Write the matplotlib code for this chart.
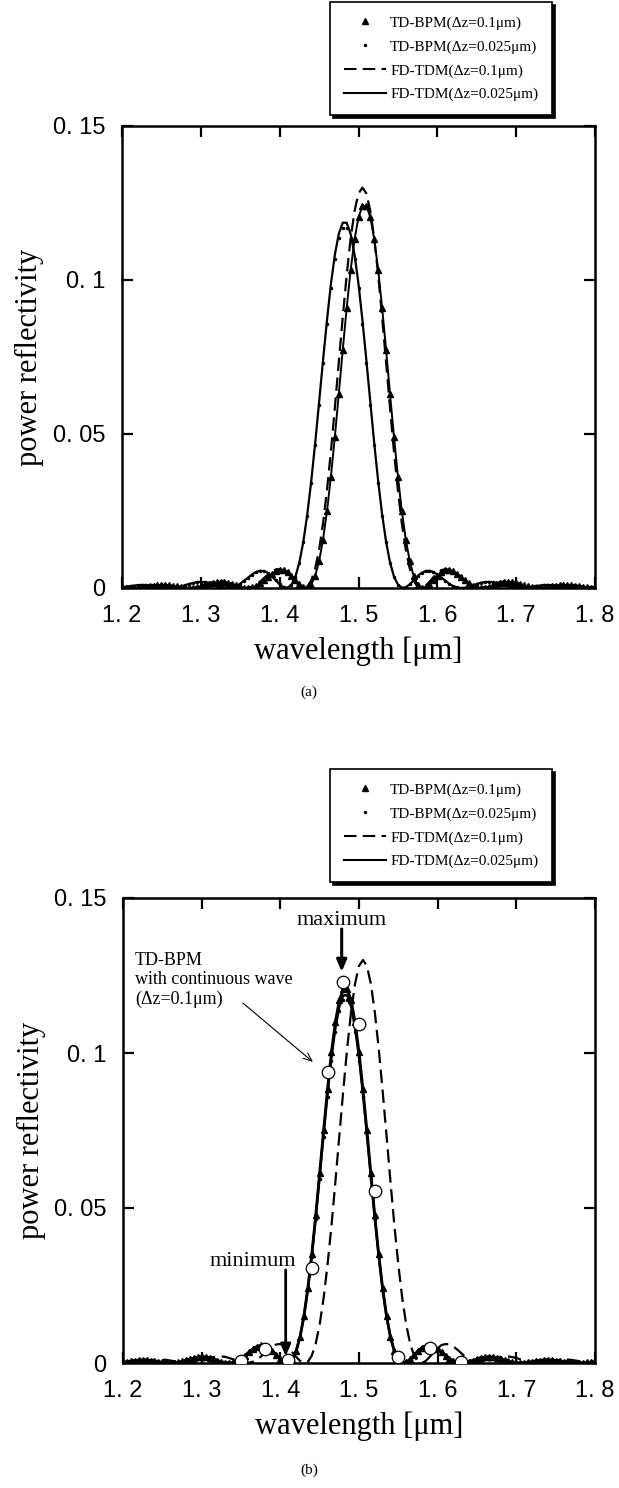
import numpy as np
import matplotlib
matplotlib.use("Agg")
import matplotlib.pyplot as plt
from matplotlib.lines import Line2D

# ---------------- data ----------------
# common wavelength sampling grid (um), 1.200 ... 1.800 step 0.005
wavelength = np.round(np.linspace(1.2, 1.8, 121), 4)

# FD-TDM (dz = 0.025 um)  - solid line, panels (a) and (b)
fd_tdm_0025 = [
    0.0002, 0.0004, 0.0006, 0.0008, 0.0009, 0.0010, 0.0010, 0.0008, 0.0007, 0.0004, 0.0002,
    0.0001, 0.0000, 0.0000, 0.0002, 0.0005, 0.0009, 0.0013, 0.0016, 0.0019, 0.0020,
    0.0019, 0.0017, 0.0013, 0.0008, 0.0004, 0.0001, 0.0000, 0.0002, 0.0006, 0.0014,
    0.0024, 0.0034, 0.0044, 0.0052, 0.0056, 0.0055, 0.0049, 0.0039, 0.0025, 0.0012,
    0.0002, 0.0001, 0.0011, 0.0037, 0.0083, 0.0150, 0.0238, 0.0346, 0.0469, 0.0603,
    0.0739, 0.0869, 0.0987, 0.1082, 0.1150, 0.1186, 0.1186, 0.1150, 0.1082, 0.0987,
    0.0869, 0.0739, 0.0603, 0.0469, 0.0346, 0.0238, 0.0150, 0.0083, 0.0037, 0.0011,
    0.0001, 0.0002, 0.0012, 0.0025, 0.0039, 0.0049, 0.0055, 0.0056, 0.0052, 0.0044,
    0.0034, 0.0024, 0.0014, 0.0006, 0.0002, 0.0000, 0.0001, 0.0004, 0.0008, 0.0013,
    0.0017, 0.0019, 0.0020, 0.0019, 0.0016, 0.0013, 0.0009, 0.0005, 0.0002, 0.0000,
    0.0000, 0.0001, 0.0002, 0.0004, 0.0007, 0.0008, 0.0010, 0.0010, 0.0009, 0.0008,
    0.0006, 0.0004, 0.0002, 0.0001, 0.0000, 0.0000, 0.0001, 0.0002, 0.0003, 0.0004]

# TD-BPM (dz = 0.025 um)  - small dots, panels (a) and (b)
td_bpm_0025 = [
    0.0002, 0.0004, 0.0006, 0.0008, 0.0009, 0.0010, 0.0010, 0.0008, 0.0007, 0.0004, 0.0002,
    0.0001, 0.0000, 0.0000, 0.0002, 0.0005, 0.0009, 0.0013, 0.0016, 0.0019, 0.0020,
    0.0019, 0.0017, 0.0013, 0.0008, 0.0004, 0.0001, 0.0000, 0.0002, 0.0006, 0.0014,
    0.0024, 0.0034, 0.0043, 0.0051, 0.0055, 0.0054, 0.0048, 0.0038, 0.0025, 0.0012,
    0.0002, 0.0001, 0.0011, 0.0036, 0.0082, 0.0148, 0.0235, 0.0341, 0.0463, 0.0595,
    0.0729, 0.0858, 0.0974, 0.1068, 0.1135, 0.1170, 0.1170, 0.1135, 0.1068, 0.0974,
    0.0858, 0.0729, 0.0595, 0.0463, 0.0341, 0.0235, 0.0148, 0.0082, 0.0036, 0.0011,
    0.0001, 0.0002, 0.0012, 0.0025, 0.0038, 0.0048, 0.0054, 0.0055, 0.0051, 0.0043,
    0.0034, 0.0024, 0.0014, 0.0006, 0.0002, 0.0000, 0.0001, 0.0004, 0.0008, 0.0013,
    0.0017, 0.0019, 0.0020, 0.0019, 0.0016, 0.0013, 0.0009, 0.0005, 0.0002, 0.0000,
    0.0000, 0.0001, 0.0002, 0.0004, 0.0007, 0.0008, 0.0010, 0.0010, 0.0009, 0.0008,
    0.0006, 0.0004, 0.0002, 0.0001, 0.0000, 0.0000, 0.0001, 0.0002, 0.0003, 0.0004]

# FD-TDM (dz = 0.1 um)  - dashed line, panels (a) and (b)
fd_tdm_01 = [
    0.0001, 0.0000, 0.0000, 0.0001, 0.0002, 0.0004, 0.0006, 0.0008, 0.0010, 0.0011, 0.0011,
    0.0010, 0.0008, 0.0006, 0.0004, 0.0002, 0.0000, 0.0000, 0.0001, 0.0004, 0.0007,
    0.0012, 0.0016, 0.0019, 0.0021, 0.0021, 0.0020, 0.0016, 0.0012, 0.0007, 0.0003,
    0.0000, 0.0001, 0.0004, 0.0011, 0.0020, 0.0032, 0.0043, 0.0053, 0.0060, 0.0061,
    0.0058, 0.0048, 0.0035, 0.0020, 0.0007, 0.0000, 0.0004, 0.0024, 0.0063, 0.0124,
    0.0209, 0.0317, 0.0443, 0.0585, 0.0733, 0.0879, 0.1016, 0.1134, 0.1224, 0.1281,
    0.1300, 0.1281, 0.1224, 0.1134, 0.1016, 0.0879, 0.0733, 0.0585, 0.0443, 0.0317,
    0.0209, 0.0124, 0.0063, 0.0024, 0.0004, 0.0000, 0.0007, 0.0020, 0.0035, 0.0048,
    0.0058, 0.0061, 0.0060, 0.0053, 0.0043, 0.0032, 0.0020, 0.0011, 0.0004, 0.0001,
    0.0000, 0.0003, 0.0007, 0.0012, 0.0016, 0.0020, 0.0021, 0.0021, 0.0019, 0.0016,
    0.0012, 0.0007, 0.0004, 0.0001, 0.0000, 0.0000, 0.0002, 0.0004, 0.0006, 0.0008,
    0.0010, 0.0011, 0.0011, 0.0010, 0.0008, 0.0006, 0.0004, 0.0002, 0.0001, 0.0000]

# TD-BPM (dz = 0.1 um) - triangles, panel (a)
td_bpm_01_a = [
    0.0002, 0.0001, 0.0000, 0.0000, 0.0001, 0.0003, 0.0004, 0.0007, 0.0008, 0.0010, 0.0010,
    0.0010, 0.0009, 0.0007, 0.0005, 0.0002, 0.0001, 0.0000, 0.0001, 0.0002, 0.0005,
    0.0009, 0.0013, 0.0017, 0.0019, 0.0021, 0.0020, 0.0017, 0.0013, 0.0009, 0.0004,
    0.0001, 0.0000, 0.0002, 0.0007, 0.0015, 0.0025, 0.0036, 0.0046, 0.0054, 0.0058,
    0.0058, 0.0051, 0.0040, 0.0027, 0.0013, 0.0003, 0.0001, 0.0011, 0.0039, 0.0087,
    0.0157, 0.0249, 0.0362, 0.0491, 0.0630, 0.0773, 0.0909, 0.1032, 0.1132, 0.1204, 0.1240,
    0.1240, 0.1204, 0.1132, 0.1032, 0.0909, 0.0773, 0.0630, 0.0491, 0.0362, 0.0249,
    0.0157, 0.0087, 0.0039, 0.0011, 0.0001, 0.0003, 0.0013, 0.0027, 0.0040, 0.0051,
    0.0058, 0.0058, 0.0054, 0.0046, 0.0036, 0.0025, 0.0015, 0.0007, 0.0002, 0.0000,
    0.0001, 0.0004, 0.0009, 0.0013, 0.0017, 0.0020, 0.0021, 0.0019, 0.0017, 0.0013,
    0.0009, 0.0005, 0.0002, 0.0001, 0.0000, 0.0001, 0.0002, 0.0005, 0.0007, 0.0009,
    0.0010, 0.0010, 0.0010, 0.0008, 0.0007, 0.0004, 0.0003, 0.0001, 0.0000]

# TD-BPM (dz = 0.1 um) - triangles, panel (b)
td_bpm_01_b = [
    0.0002, 0.0004, 0.0006, 0.0008, 0.0009, 0.0010, 0.0010, 0.0008, 0.0007, 0.0004, 0.0002,
    0.0001, 0.0000, 0.0000, 0.0002, 0.0005, 0.0009, 0.0013, 0.0016, 0.0019, 0.0020,
    0.0019, 0.0017, 0.0013, 0.0008, 0.0004, 0.0001, 0.0000, 0.0002, 0.0007, 0.0014,
    0.0024, 0.0035, 0.0045, 0.0053, 0.0057, 0.0056, 0.0050, 0.0039, 0.0026, 0.0012,
    0.0002, 0.0001, 0.0011, 0.0038, 0.0084, 0.0152, 0.0242, 0.0352, 0.0477, 0.0613,
    0.0751, 0.0884, 0.1003, 0.1101, 0.1170, 0.1205, 0.1205, 0.1170, 0.1101, 0.1003,
    0.0884, 0.0751, 0.0613, 0.0477, 0.0352, 0.0242, 0.0152, 0.0084, 0.0038, 0.0011,
    0.0001, 0.0002, 0.0012, 0.0026, 0.0039, 0.0050, 0.0056, 0.0057, 0.0053, 0.0045,
    0.0035, 0.0024, 0.0014, 0.0007, 0.0002, 0.0000, 0.0001, 0.0004, 0.0008, 0.0013,
    0.0017, 0.0019, 0.0020, 0.0019, 0.0016, 0.0013, 0.0009, 0.0005, 0.0002, 0.0000,
    0.0000, 0.0001, 0.0002, 0.0004, 0.0007, 0.0008, 0.0010, 0.0010, 0.0009, 0.0008,
    0.0006, 0.0004, 0.0002, 0.0001, 0.0000, 0.0000, 0.0001, 0.0002, 0.0003, 0.0004]

# TD-BPM with continuous wave (dz = 0.1 um) - open circles, panel (b)
cw_wavelength = [1.35, 1.38, 1.41, 1.44, 1.46, 1.48, 1.50, 1.52, 1.55, 1.59, 1.63]
cw_reflectivity = [0.0005, 0.0045, 0.0010, 0.0305, 0.0940, 0.1230, 0.1095, 0.0555,
                   0.0020, 0.0050, 0.0004]

legend_labels = ["TD-BPM(\u0394z=0.1\u03bcm)", "TD-BPM(\u0394z=0.025\u03bcm)",
                 "FD-TDM(\u0394z=0.1\u03bcm)", "FD-TDM(\u0394z=0.025\u03bcm)"]
x_ticks = [1.2, 1.3, 1.4, 1.5, 1.6, 1.7, 1.8]
x_ticklabels = ["1. 2", "1. 3", "1. 4", "1. 5", "1. 6", "1. 7", "1. 8"]
y_ticks = [0, 0.05, 0.1, 0.15]
y_ticklabels = ["0", "0. 05", "0. 1", "0. 15"]

# ---------------- drawing ----------------
SERIF = ["Liberation Serif", "DejaVu Serif"]
TICKFONT = ["Liberation Sans", "DejaVu Sans"]
W, H = 619, 1488
fig = plt.figure(figsize=(W / 100, H / 100), dpi=100)


def px_axes(l, t, r, b):
    return [l / W, 1 - b / H, (r - l) / W, (b - t) / H]


ax1 = fig.add_axes(px_axes(122, 126, 595, 588))
ax2 = fig.add_axes(px_axes(123, 898, 595, 1363))

DASH = (0, (6, 3))


def style(ax):
    ax.set_xlim(1.2, 1.8)
    ax.set_ylim(0, 0.15)
    ax.set_xticks(x_ticks)
    ax.set_xticklabels(x_ticklabels)
    ax.set_yticks(y_ticks)
    ax.set_yticklabels(y_ticklabels)
    ax.tick_params(direction="in", top=True, right=True, length=8, width=1.6)
    ax.tick_params(axis="y", labelsize=17, pad=12)
    ax.tick_params(axis="x", labelsize=17, pad=12)
    for lab in ax.get_xticklabels() + ax.get_yticklabels():
        lab.set_family(TICKFONT)
    for s in ax.spines.values():
        s.set_linewidth(1.8)
    ax.set_ylabel("power reflectivity", family=SERIF, fontsize=22, labelpad=6)
    ax.set_xlabel("wavelength [\u03bcm]", family=SERIF, fontsize=22, labelpad=7)


def legend(top_px):
    handles = [
        Line2D([], [], marker="^", ls="none", color="k", ms=4),
        Line2D([], [], marker=".", ls="none", color="k", ms=3),
        Line2D([], [], ls=DASH, color="k", lw=1.5),
        Line2D([], [], ls="-", color="k", lw=1.5),
    ]
    lg = fig.legend(handles, legend_labels, loc="upper right",
                    bbox_to_anchor=(552 / W, 1 - top_px / H),
                    frameon=True, fancybox=False, edgecolor="black",
                    shadow={"color": "black", "alpha": 1.0},
                    prop={"family": SERIF, "size": 11},
                    handlelength=2.8, handletextpad=0.25, borderpad=0.9,
                    labelspacing=0.66, borderaxespad=0, numpoints=1)
    lg.get_frame().set_linewidth(1.2)
    return lg


# panel (a)
ax1.plot(wavelength, fd_tdm_01, ls=DASH, color="k", lw=1.6)
ax1.plot(wavelength, fd_tdm_0025, ls="-", color="k", lw=1.6)
ax1.plot(wavelength, td_bpm_0025, ls="none", marker=".", ms=3, color="k")
ax1.plot(wavelength, td_bpm_01_a, ls="-", lw=1.4, marker="^", ms=3.8, color="k")
style(ax1)
legend(2)

# panel (b)
ax2.plot(wavelength, fd_tdm_01, ls=DASH, color="k", lw=1.6)
ax2.plot(wavelength, fd_tdm_0025, ls="-", color="k", lw=1.8)
ax2.plot(wavelength, td_bpm_0025, ls="none", marker=".", ms=3, color="k")
ax2.plot(wavelength, td_bpm_01_b, ls="-", lw=2.0, marker="^", ms=3.8, color="k")
ax2.plot(cw_wavelength, cw_reflectivity, ls="none", marker="o", ms=9,
         mfc="white", mec="k", mew=0.9, zorder=5)
style(ax2)
legend(769)

# annotations (panel b)
ax2.text(1.478, 0.1429, "maximum", family=SERIF, fontsize=16, ha="center", va="center")
ax2.annotate("", xy=(1.478, 0.1262), xytext=(1.478, 0.1400),
             arrowprops=dict(arrowstyle="-|>,head_length=0.7,head_width=0.3",
                             lw=2.2, color="k", shrinkA=0, shrinkB=0))
ax2.text(1.3646, 0.0326, "minimum", family=SERIF, fontsize=16, ha="center", va="center")
ax2.annotate("", xy=(1.4068, 0.0022), xytext=(1.4068, 0.0300),
             arrowprops=dict(arrowstyle="-|>,head_length=0.7,head_width=0.3",
                             lw=2.0, color="k", shrinkA=0, shrinkB=0))
ax2.text(1.2153, 0.1325, "TD-BPM\nwith continuous wave\n(\u0394z=0.1\u03bcm)",
         family=SERIF, fontsize=13, ha="left", va="top", linespacing=1.15)
ax2.annotate("", xy=(1.4415, 0.0971), xytext=(1.3525, 0.1161),
             arrowprops=dict(arrowstyle="->,head_length=0.6,head_width=0.25",
                             lw=0.8, color="k", shrinkA=0, shrinkB=0))

fig.text(309 / W, 1 - 692 / H, "(a)", family=SERIF, fontsize=11, ha="center", va="center")
fig.text(309 / W, 1 - 1470 / H, "(b)", family=SERIF, fontsize=11, ha="center", va="center")

fig.savefig("out.png", dpi=100)
